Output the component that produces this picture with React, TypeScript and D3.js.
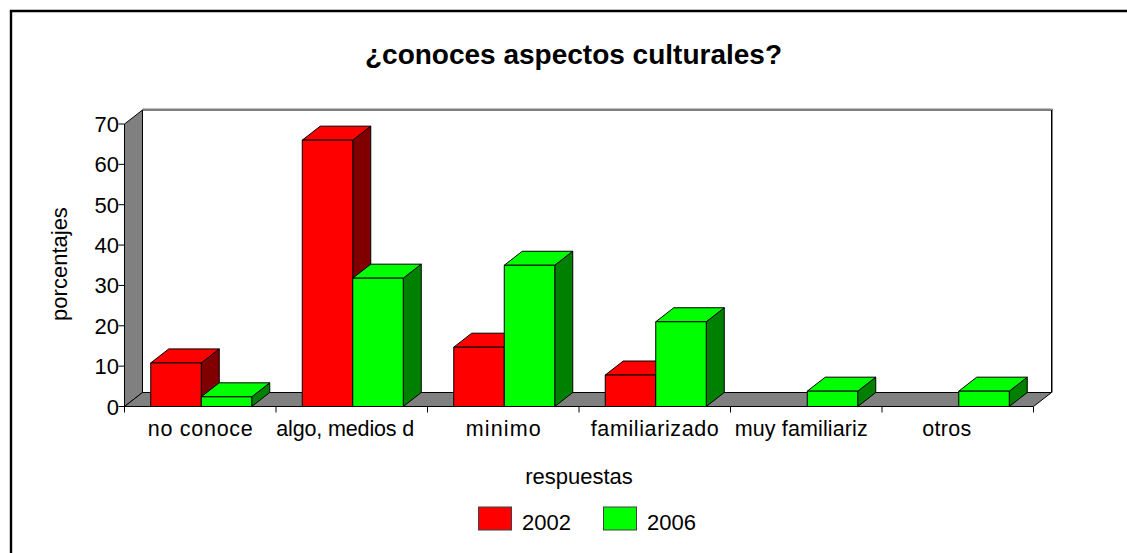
import React from "react";
import * as d3 from "d3";

const categories = ["no conoce", "algo, medios d", "minimo", "familiarizado", "muy familiariz", "otros"];
const seriesNames = ["2002", "2006"];
const values2002 = [10.8, 66, 14.7, 7.8, 0, 0];
const values2006 = [2.4, 31.8, 35, 21, 3.8, 3.8];
const yTicks = [0, 10, 20, 30, 40, 50, 60, 70];
const fronts = ["#ff0000", "#00ff00"];
const sides = ["#800000", "#008000"];
const font = "'Liberation Sans', Arial, sans-serif";

const W = 1127, H = 553;
const x0 = 124.5, x1 = 1033.5, yBase = 406.5, yTop = 124;
const dx = 18, dy = -14;
const labelShift = [0, -6.5, 0, 0, -5, -11];
const labelWidths = [105, 138, 75, 128, 133, 49];

export default function App() {
  const y = d3.scaleLinear().domain([0, 70]).range([yBase, yTop]);
  const xBand = d3.scaleBand<number>().domain(d3.range(categories.length)).range([x0, x1]);
  const step = xBand.step();
  const barW = 50.5;
  const pad = (step - 2 * barW) / 2 + 1;
  const bars: any[] = [];
  [values2002, values2006].forEach((vals, s) => {
    vals.forEach((v, i) => {
      if (v > 0) bars.push({ v, i, s, x: (xBand(i) as number) + pad + s * barW });
    });
  });
  bars.sort((a, b) => a.i - b.i || a.s - b.s);
  const pts = (arr: number[][]) => arr.map((p) => p.join(",")).join(" ");
  return (
    <svg width={W} height={H} style={{ position: "absolute", left: 0, top: 0, background: "#fff" }}>
      <path d={`M11,${H} V11 H${W}`} fill="none" stroke="#000" strokeWidth={2.4} />
      <text x={573.5} y={64} textAnchor="middle" fontFamily={font} fontWeight="bold" fontSize={28}>¿conoces aspectos culturales?</text>

      {/* back wall */}
      <path d={`M${x0 + dx},${yBase + dy} V${yTop + dy} H${x1 + dx} V${yBase + dy}`} fill="#fff" stroke="#000" strokeWidth={1} />
      <path d={`M${x0 + dx},${yTop + dy - 1} H${x1 + dx + 1} V${yBase + dy}`} fill="none" stroke="#808080" strokeWidth={1} />
      {/* left wall */}
      <polygon points={pts([[x0, yBase], [x0, yTop], [x0 + dx, yTop + dy], [x0 + dx, yBase + dy]])} fill="#808080" stroke="#000" strokeWidth={1} />
      {/* floor */}
      <polygon points={pts([[x0, yBase], [x0 + dx, yBase + dy], [x1 + dx, yBase + dy], [x1, yBase]])} fill="#808080" stroke="#000" strokeWidth={1} />

      {/* category ticks */}
      {d3.range(categories.length + 1).map((i) => {
        const tx = x0 + i * step;
        return <line key={i} x1={tx} x2={tx} y1={yBase} y2={yBase + 6} stroke="#000" />;
      })}
      {/* value ticks */}
      {yTicks.map((t) => (
        <g key={t}>
          <line x1={x0 - 6} x2={x0} y1={y(t)} y2={y(t)} stroke="#000" />
          <text x={x0 - 5.5} y={y(t) + 8} textAnchor="end" fontFamily={font} fontSize={22}>{t}</text>
        </g>
      ))}

      {bars.map((b) => {
        const top = y(b.v);
        const r = b.x + barW;
        return (
          <g key={`${b.i}-${b.s}`} stroke="#000" strokeWidth={1} strokeLinejoin="round">
            <polygon points={pts([[r, yBase], [r, top], [r + dx, top + dy], [r + dx, yBase + dy]])} fill={sides[b.s]} />
            <polygon points={pts([[b.x, top], [b.x + dx, top + dy], [r + dx, top + dy], [r, top]])} fill={fronts[b.s]} />
            <rect x={b.x} y={top} width={barW} height={yBase - top} fill={fronts[b.s]} />
          </g>
        );
      })}

      {categories.map((c, i) => (
        <text key={c} x={(xBand(i) as number) + step / 2 + labelShift[i]} y={436} textAnchor="middle" fontFamily={font} fontSize={21.5} textLength={labelWidths[i]} lengthAdjust="spacing">{c}</text>
      ))}

      <text transform="translate(67,264) rotate(-90)" textAnchor="middle" fontFamily={font} fontSize={22}>porcentajes</text>
      <text x={579} y={484} textAnchor="middle" fontFamily={font} fontSize={22}>respuestas</text>

      {seriesNames.map((n, i) => {
        const lx = 478.5 + i * 125;
        return (
          <g key={n}>
            <rect x={lx} y={507} width={33} height={23} fill={fronts[i]} stroke="#404040" />
            <text x={lx + 43.5} y={530} fontFamily={font} fontSize={22}>{n}</text>
          </g>
        );
      })}
    </svg>
  );
}
